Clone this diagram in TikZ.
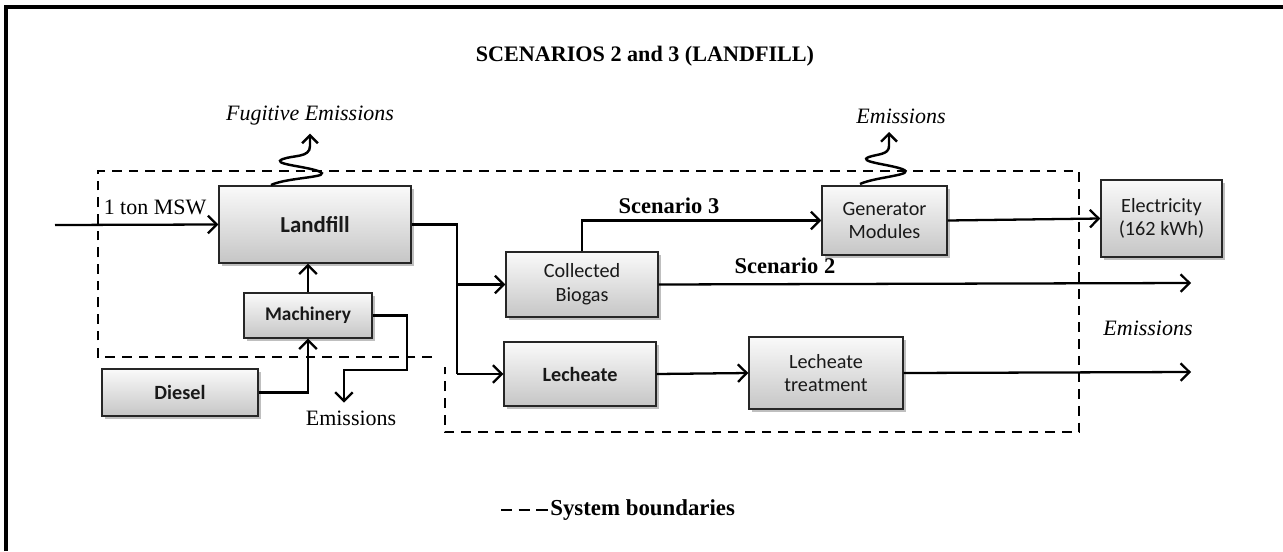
\documentclass[tikz,border=0pt]{standalone}
\usepackage{fontspec}
\setmainfont{Liberation Serif}
\newfontfamily\boxfont{Carlito}
\usetikzlibrary{arrows.meta,shadows}

\begin{document}
\begin{tikzpicture}[x=0.02cm,y=-0.02cm,
    box/.style={draw=black!85,line width=0.8pt,top color=gray!4,bottom color=gray!45,
      drop shadow={shadow xshift=1.6pt,shadow yshift=-1.6pt,opacity=0.5,fill=gray},
      align=center,font=\boxfont\fontsize{11.5}{13.5}\selectfont,text=black!90,inner sep=1pt},
    flow/.style={line width=1.3pt,-{Straight Barb[length=5pt,width=10pt]}},
    wire/.style={line width=1.3pt},
    boundary/.style={line width=1.5pt,dash pattern=on 5.5pt off 4pt},
    wiggle/.style={line width=1.4pt,-{Straight Barb[length=4.5pt,width=9pt]}},
    lbl/.style={font=\fontsize{12.5}{14}\selectfont}]
  \useasboundingbox (0,0) rectangle (1283,551);
  \draw[line width=1.8pt] (6,551) -- (6,7) -- (1283,7);

  % title
  \node[font=\bfseries\fontsize{12.6}{14}\selectfont] (title) at (645,56) {SCENARIOS 2 and 3 (LANDFILL)};

  % system boundary
  \draw[boundary] (432,357) -- (98,357) -- (98,171) -- (1079,171) -- (1079,432) -- (445,432) -- (445,367);

  % process boxes
  \node[box,minimum width=3.84cm,minimum height=1.54cm,font=\boxfont\bfseries\fontsize{13}{15}\selectfont] (landfill) at (315,224.5) {Landfill};
  \node[box,minimum width=2.56cm,minimum height=0.9cm,font=\boxfont\bfseries\fontsize{11}{13}\selectfont] (machinery) at (308,315.5) {Machinery};
  \node[box,minimum width=3.12cm,minimum height=0.94cm,font=\boxfont\bfseries\fontsize{11.5}{13}\selectfont] (diesel) at (180,392.5) {Diesel};
  \node[box,minimum width=3.04cm,minimum height=1.3cm] (biogas) at (582,284.5) {Collected\\Biogas};
  \node[box,minimum width=3.04cm,minimum height=1.28cm,font=\boxfont\bfseries\fontsize{11.5}{13}\selectfont] (lecheate) at (580,374) {Lecheate};
  \node[box,minimum width=3.08cm,minimum height=1.44cm] (treatment) at (826,373) {Lecheate\\treatment};
  \node[box,minimum width=2.5cm,minimum height=1.38cm] (generator) at (884.5,220.5) {Generator\\Modules};
  \node[box,minimum width=2.42cm,minimum height=1.54cm] (electricity) at (1161.5,218.5) {Electricity\\(162 kWh)};

  % labels
  \node[lbl] (msw) at (155,207) {1 ton MSW};
  \node[lbl,font=\itshape\fontsize{12.5}{14}\selectfont] (fugitive) at (310,116) {Fugitive Emissions};
  \node[lbl,font=\itshape\fontsize{12.5}{14}\selectfont] (genemis) at (901,116) {Emissions};
  \node[lbl,font=\itshape\fontsize{12.5}{14}\selectfont] (outemis) at (1148,328) {Emissions};
  \node[lbl] (machemis) at (351,418) {Emissions};
  \node[lbl,font=\bfseries\fontsize{12.8}{14}\selectfont] (sc3) at (669,206) {Scenario 3};
  \node[lbl,font=\bfseries\fontsize{12.8}{14}\selectfont] (sc2) at (785,266) {Scenario 2};
  \node[lbl,font=\bfseries\fontsize{13}{14}\selectfont,anchor=west,inner sep=0pt] (legend) at (550,510) {System boundaries};

  \coordinate (in) at (55,225);
  \coordinate (split) at (457,0);
  \coordinate (out2) at (1191,283);
  \coordinate (out1) at (1191,372);
  \coordinate (legstart) at (501,510);

  % flows
  \draw[flow] (in) -- (landfill.west);
  \draw[wire] (landfill.east) -| (split |- lecheate.west);
  \draw[flow] (split |- lecheate.west) -- (lecheate.west);
  \draw[flow] (split |- biogas.west) -- (biogas.west);
  \draw[flow] (biogas.north) |- (generator.west);
  \draw[flow] (generator.east) -- (electricity.west);
  \draw[flow] (biogas.east) -- (out2);
  \draw[flow] (lecheate.east) -- (treatment.west);
  \draw[flow] (treatment.east) -- (out1);
  \draw[flow] (machinery.north) -- (machinery.north |- landfill.south);
  \draw[flow] (diesel.east) -| (machinery.south);
  \draw[flow] (machinery.east) -| (407,370) -| ([xshift=-4pt,yshift=1pt]machemis.north);

  % emission squiggles
  \draw[wiggle] (271,185) to[out=25,in=-20] (318,171) to[out=160,in=200] (283,159)
    to[out=20,in=-90] (310,146) -- ([yshift=-1pt]fugitive.south);
  \draw[wiggle] (860,184) to[out=25,in=-20] (902,169) to[out=160,in=200] (869,157)
    to[out=20,in=-90] (889,146) -- (889,132);

  % legend
  \draw[line width=1.3pt,dash pattern=on 6.5pt off 3.5pt] (legstart) -- (legend.west);
\end{tikzpicture}
\end{document}
